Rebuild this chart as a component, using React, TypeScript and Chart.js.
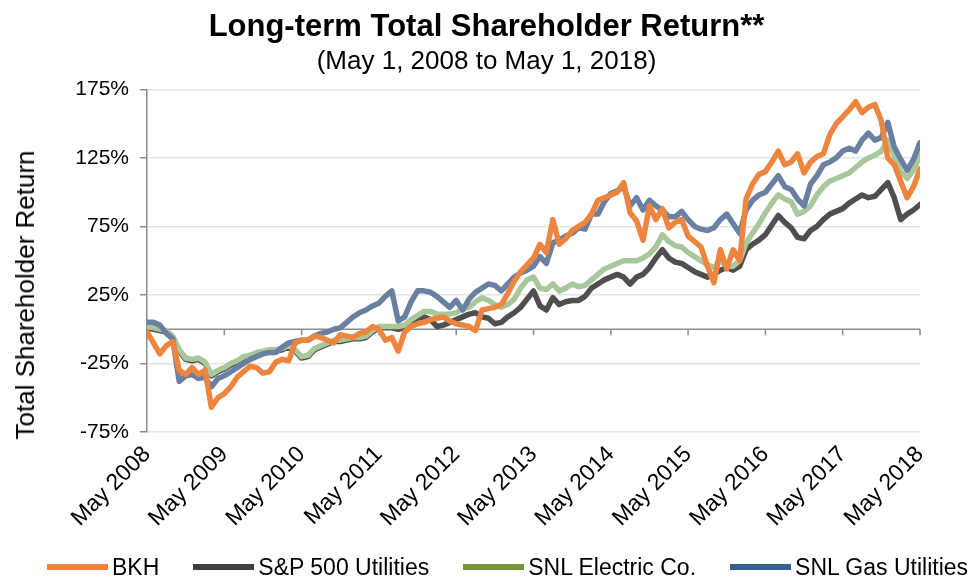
import React, { useEffect, useRef } from "react";
import { Chart, registerables } from "chart.js";

Chart.register(...registerables);

const FONT = "'Liberation Sans', Arial, Helvetica, sans-serif";

const titleText = "Long-term Total Shareholder Return**";
const subtitleText = "(May 1, 2008 to May 1, 2018)";
const yAxisTitle = "Total Shareholder Return";

const yearLabels = [
  "May 2008", "May 2009", "May 2010", "May 2011", "May 2012", "May 2013",
  "May 2014", "May 2015", "May 2016", "May 2017", "May 2018",
];

const seriesNames = ["BKH", "S&P 500 Utilities", "SNL Electric Co.", "SNL Gas Utilities"];

// monthly values, May 2008 .. May 2018 (percent)
const bkh = [
  -2, -10, -18, -12, -9, -30, -33, -28, -33, -30,
  -57, -50, -47, -42, -35, -31, -27, -28, -32, -31,
  -24, -22, -23, -10, -8, -8, -5, -6, -8, -10,
  -4, -5, -6, -3, -2, 2, 0, -8, -6, -16,
  -2, 2, 4, 5, 7, 8, 9, 6, 4, 3,
  2, -1, 14, 15, 16, 18, 26, 35, 42, 47,
  52, 62, 56, 80, 62, 66, 72, 75, 78, 84,
  94, 96, 98, 100, 107, 85, 79, 65, 90, 80,
  88, 74, 78, 80, 68, 64, 60, 46, 34, 58,
  44, 58, 50, 95, 106, 113, 115, 122, 130, 120,
  122, 128, 114, 122, 126, 128, 142, 150, 155, 160,
  166, 158, 162, 164, 152, 125, 120, 108, 96, 104,
  117,
];

const sp500Utilities = [
  1, 0, -1, -2, -6, -16, -22, -23, -22, -25,
  -34, -31, -29, -26, -24, -21, -20, -18, -17, -16,
  -16, -15, -13, -16, -21, -20, -15, -13, -11, -9,
  -9, -8, -7, -7, -6, -2, 1, 1, 1, 0,
  1, 5, 8, 9, 7, 2, 3, 5, 7, 9,
  11, 12, 9, 8, 4, 5, 9, 12, 16, 22,
  28, 17, 14, 23, 18, 20, 21, 21, 24, 30,
  33, 36, 38, 40, 38, 33, 38, 40, 45, 52,
  58, 52, 49, 48, 45, 42, 40, 38, 40, 43,
  45, 43, 46, 58, 62, 65, 69, 76, 83, 78,
  74, 67, 66, 72, 75, 80, 84, 86, 88, 92,
  95, 98, 96, 97, 102, 107, 96, 80, 84, 87,
  91,
];

const snlElectric = [
  2, 1, 0, -1, -5, -15, -21, -22, -21, -24,
  -33, -30, -28, -25, -23, -20, -19, -17, -16, -15,
  -15, -14, -12, -15, -20, -19, -14, -12, -10, -8,
  -8, -7, -6, -6, -5, -1, 2, 2, 2, 2,
  3, 7, 10, 13, 13, 11, 11, 11, 12, 15,
  16, 20, 23, 21, 18, 16, 18, 22, 30, 36,
  38, 30, 29, 33, 28, 30, 33, 31, 32, 36,
  40, 44, 46, 48, 50, 50, 50, 52, 55, 60,
  69, 64, 61, 60, 56, 53, 50, 47, 45, 50,
  46, 46, 50, 63, 70, 77, 85, 92, 98, 95,
  93, 84, 86, 90, 98, 104, 108, 110, 112, 114,
  118, 122, 125, 127, 130, 138, 126, 115, 110, 116,
  127,
];

const snlGas = [
  5, 5, 3, -3, -7, -38, -34, -33, -36, -35,
  -42, -36, -34, -31, -28, -25, -22, -20, -18, -17,
  -17, -13, -10, -9, -8, -8, -5, -3, -2, 0,
  1, 5, 9, 12, 14, 17, 19, 24, 28, 6,
  9, 20, 28, 28, 27, 24, 20, 16, 21, 14,
  22, 27, 30, 33, 32, 28, 33, 38, 41, 43,
  46, 53, 48, 63, 65, 68, 70, 74, 73, 84,
  84, 93, 99, 101, 104, 90, 96, 87, 94, 90,
  87, 82, 82, 86, 80, 75, 73, 72, 74, 80,
  84, 77, 70, 87, 94, 98, 100, 106, 112, 104,
  102, 95, 90, 106, 112, 120, 122, 125, 130, 132,
  130, 138, 143, 138, 140, 151, 133, 124, 116, 124,
  136,
];

const lineColors = ["#EF843F", "#4F4F4F", "#A8C79A", "#6A80A3"];
const legendColors = ["#F0843C", "#404040", "#77933C", "#376092"];
const drawOrder = [0, 3, 2, 1];

const toPoints = (arr: number[]) => arr.map((v, i) => ({ x: i, y: v }));

const zeroAxisPlugin = {
  id: "zeroAxis",
  beforeDatasetsDraw(chart: any) {
    const { ctx, scales } = chart;
    const x = scales.x;
    const y = scales.y;
    const py = y.getPixelForValue(0);
    ctx.save();
    ctx.strokeStyle = "#8C8C8C";
    ctx.lineWidth = 1.5;
    ctx.beginPath();
    ctx.moveTo(x.left, py);
    ctx.lineTo(x.right, py);
    for (let i = 0; i < yearLabels.length; i++) {
      const px = x.getPixelForValue(i * 12);
      ctx.moveTo(px, py);
      ctx.lineTo(px, py + 6);
    }
    ctx.stroke();
    ctx.restore();
  },
};

export default function App() {
  const canvasRef = useRef<HTMLCanvasElement | null>(null);

  useEffect(() => {
    document.body.style.margin = "0";
    document.body.style.overflow = "hidden";
    const canvas = canvasRef.current;
    if (!canvas) return;
    const series = [bkh, sp500Utilities, snlElectric, snlGas];
    const chart = new Chart(canvas, {
      type: "line",
      data: {
        datasets: series.map((s, i) => ({
          label: seriesNames[i],
          data: toPoints(s),
          borderColor: lineColors[i],
          backgroundColor: lineColors[i],
          borderWidth: 5.5,
          pointRadius: 0,
          tension: 0,
          fill: false,
          order: drawOrder[i],
          borderJoinStyle: "round" as const,
          borderCapStyle: "round" as const,
        })),
      },
      options: {
        responsive: false,
        animation: false,
        layout: { padding: { top: 0, right: 0, bottom: 50, left: 0 } },
        plugins: {
          legend: { display: false },
          tooltip: { enabled: false },
          title: {
            display: true,
            text: titleText,
            color: "#000",
            font: { family: FONT, size: 31, weight: "bold" },
            padding: { top: 9, bottom: 0 },
          },
          subtitle: {
            display: true,
            text: subtitleText,
            color: "#000",
            font: { family: FONT, size: 26 },
            padding: { top: 0, bottom: 12 },
          },
        },
        scales: {
          x: {
            type: "linear",
            min: 0,
            max: 120,
            grid: { display: false },
            border: { display: false },
            ticks: {
              stepSize: 12,
              autoSkip: false,
              maxRotation: 45,
              minRotation: 45,
              padding: 1,
              color: "#000",
              font: { family: FONT, size: 23 },
              callback: (v: any) => {
                const idx = Math.round(Number(v) / 12);
                return Number(v) % 12 === 0 ? yearLabels[idx] : "";
              },
            },
            afterFit: (scale: any) => {
              scale.height = 95;
            },
          },
          y: {
            min: -75,
            max: 175,
            grid: {
              color: "#E4E4E4",
              lineWidth: 1.5,
              tickColor: "#8C8C8C",
              tickLength: 7,
            },
            border: { display: true, color: "#8C8C8C", width: 1.5 },
            ticks: {
              stepSize: 50,
              color: "#000",
              padding: 11,
              font: { family: FONT, size: 21 },
              callback: (v: any) => `${v}%`,
            },
            afterFit: (scale: any) => {
              scale.width = 147;
            },
          },
          yRight: {
            type: "linear",
            position: "right",
            display: true,
            min: -75,
            max: 175,
            grid: { display: false, drawTicks: false },
            border: { display: false },
            ticks: { display: false },
            afterFit: (scale: any) => {
              scale.width = 53;
            },
          },
        },
      },
      plugins: [zeroAxisPlugin],
    });
    return () => chart.destroy();
  }, []);

  return (
    <div style={{ position: "relative", width: 973, height: 577 }}>
      <canvas ref={canvasRef} width={973} height={577} style={{ display: "block" }} />
      <div
        style={{
          position: "absolute",
          left: 25,
          top: 295,
          transform: "translate(-50%, -50%) rotate(-90deg)",
          fontFamily: FONT,
          fontSize: 26,
          lineHeight: "30px",
          color: "#000",
          whiteSpace: "nowrap",
        }}
      >
        {yAxisTitle}
      </div>
      <div
        style={{
          position: "absolute",
          left: 47,
          top: 553,
          display: "flex",
          alignItems: "center",
          gap: 34,
          fontFamily: FONT,
          fontSize: 23,
          lineHeight: "28px",
          color: "#000",
          whiteSpace: "nowrap",
        }}
      >
        {seriesNames.map((name, i) => (
          <div key={name} style={{ display: "flex", alignItems: "center" }}>
            <span
              style={{
                display: "inline-block",
                width: 61,
                height: 6,
                background: legendColors[i],
                marginRight: 4,
              }}
            />
            <span>{name}</span>
          </div>
        ))}
      </div>
    </div>
  );
}
